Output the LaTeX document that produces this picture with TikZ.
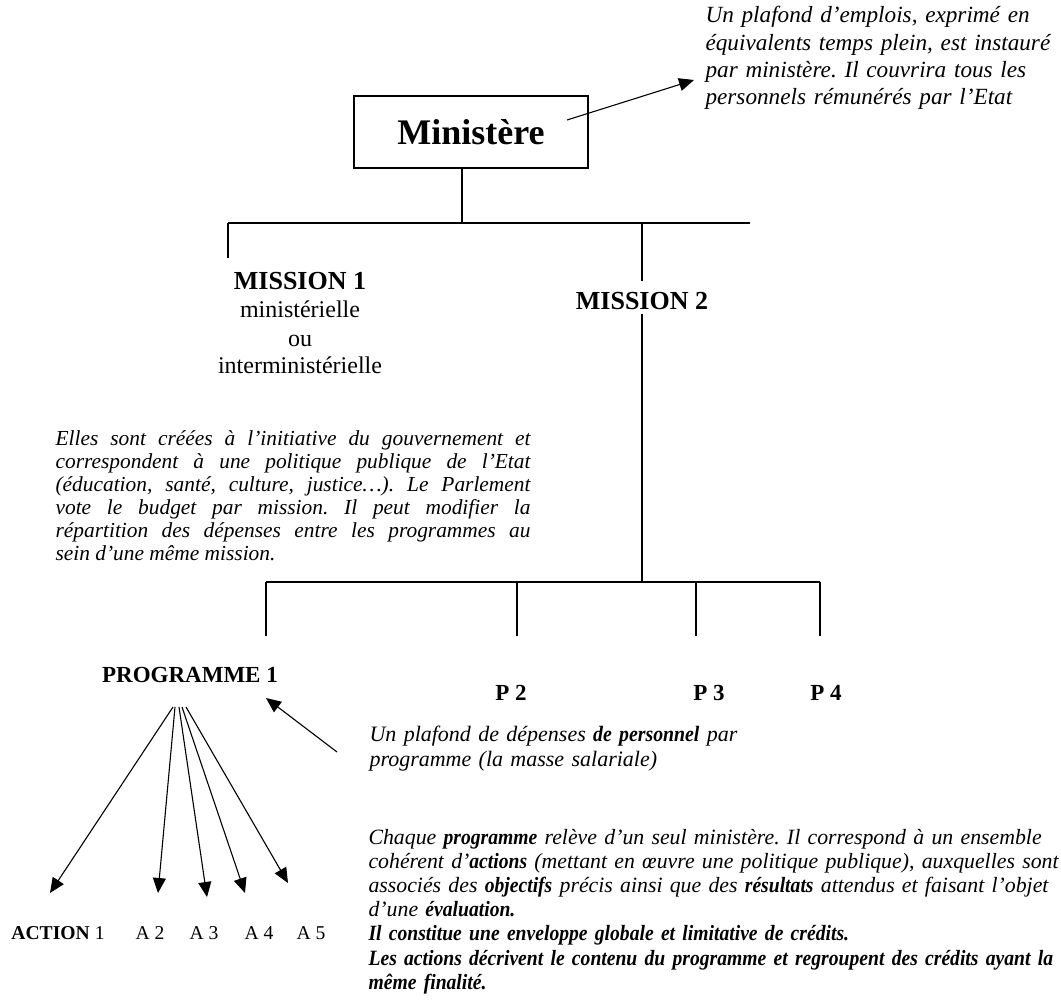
\documentclass[tikz,border=0pt]{standalone}
\usepackage{fontspec}
\setmainfont{Liberation Serif}
\newfontfamily\narrowserif[FakeStretch=0.9]{Liberation Serif}
\newcommand{\bi}[1]{{\narrowserif\bfseries\itshape #1}}
\frenchspacing
\usetikzlibrary{arrows.meta}
\tikzstyle{box} = [draw, minimum width=117pt, minimum height=36pt, inner sep=0pt, font=\fontsize{18}{20}\selectfont\bfseries]
\tikzstyle{title} = [inner sep=0pt, anchor=base, font=\fontsize{13}{15}\selectfont\bfseries]
\tikzstyle{sub} = [inner sep=0pt, anchor=base, font=\fontsize{12}{14}\selectfont]
\tikzstyle{prog} = [inner sep=0pt, anchor=base, font=\fontsize{11.5}{13}\selectfont\bfseries]
\tikzstyle{act} = [inner sep=0pt, anchor=base, font=\fontsize{9.8}{12}\selectfont]
\tikzstyle{note} = [inner sep=0pt, anchor=base west, align=left, font=\fontsize{11}{12.5}\selectfont\itshape]
\tikzstyle{arr} = [-{Triangle[length=7.5pt, width=6.5pt]}]

\begin{document}
\begin{tikzpicture}[x=0.5pt, y=-0.5pt, line width=0.55pt]
    \useasboundingbox (0,0) rectangle (1061,1000);
    \node (min) [box] at (471,132) {Ministère};
    \node (emplois) [note, text width=180pt, font=\fontsize{11.6}{13.6}\selectfont\itshape] at (705,23)
        {Un plafond d'emplois, exprimé en\\ équivalents temps plein, est instauré\\
         par ministère. Il couvrira tous les\\ personnels rémunérés par l'Etat};
    \coordinate (e0) at (567,120);
    \coordinate (e1) at (694,80);
    \draw [arr] (e0) -- (e1);
    % missions
    \coordinate (j0) at (462,223);
    \coordinate (l0) at (228,223);
    \coordinate (r0) at (750,223);
    \coordinate (j1) at (228,258);
    \coordinate (j2) at (642,223);
    \node (m1) [title] at (300,290) {MISSION 1};
    \node (m1a) [sub] at (300,318) {ministérielle};
    \node (m1b) [sub] at (300,347) {ou};
    \node (m1c) [sub] at (300,374) {interministérielle};
    \node (m2) [title] at (642,310) {MISSION 2};
    \draw (min.south -| j0) -- (j0);
    \draw (l0) -- (r0);
    \draw (l0) -- (j1);
    \draw (j2) -- ([yshift=5.5pt]m2.north);
    \node (elles) [note, text width=237.5pt, align=justify, font=\fontsize{10.7}{11.5}\selectfont\itshape] at (55,445)
        {Elles sont créées à l'initiative du gouvernement et\linebreak
         correspondent à une politique publique de l'Etat\linebreak
         (éducation, santé, culture, justice…). Le Parlement\linebreak
         vote le budget par mission. Il peut modifier la\linebreak
         répartition des dépenses entre les programmes au\linebreak
         sein d'une même mission.};
    % programmes
    \coordinate (j3) at (642,582);
    \coordinate (l3) at (266,582);
    \coordinate (r3) at (820,582);
    \coordinate (q1) at (266,636);
    \coordinate (q2) at (517,636);
    \coordinate (q3) at (696,636);
    \coordinate (q4) at (820,636);
    \draw ([yshift=-1.5pt]m2.south) -- (j3);
    \draw (l3) -- (r3);
    \foreach \q in {q1,q2,q3,q4}
        \draw (\q |- j3) -- (\q);
    \node (p1) [prog] at (190,682) {PROGRAMME 1};
    \node (p2) [prog] at (511,700) {P 2};
    \node (p3) [prog] at (709,700) {P 3};
    \node (p4) [prog] at (826,700) {P 4};
    \node (masse) [note, text width=200pt] at (369,741)
        {Un plafond de dépenses \bi{de personnel} par\\ programme (la masse salariale)};
    \coordinate (d0) at (337,752);
    \coordinate (d1) at (266,698);
    \draw [arr] (d0) -- (d1);
    % actions
    \coordinate (o1) at (173,707);
    \coordinate (o2) at (175,707);
    \coordinate (o3) at (179,707);
    \coordinate (o4) at (182,707);
    \coordinate (o5) at (186,707);
    \coordinate (t1) at (50,893);
    \coordinate (t2) at (158,893);
    \coordinate (t3) at (207,897);
    \coordinate (t4) at (245,893);
    \coordinate (t5) at (288,883);
    \foreach \i in {1,...,5}
        \draw [arr] (o\i) -- (t\i);
    \node (a1) [act] at (58,939) {\textbf{ACTION} 1};
    \node (a2) [act] at (150,939) {A 2};
    \node (a3) [act] at (204,939) {A 3};
    \node (a4) [act] at (259,939) {A 4};
    \node (a5) [act] at (311,939) {A 5};
    \node (chaque) [note, text width=420pt, font=\fontsize{10.9}{12.1}\selectfont\itshape] at (368,844)
        {Chaque \bi{programme} relève d'un seul ministère. Il correspond à un ensemble\\
         cohérent d'\bi{actions} (mettant en œuvre une politique publique), auxquelles sont\\
         associés des \bi{objectifs} précis ainsi que des \bi{résultats} attendus et faisant l'objet\\
         d'une \bi{évaluation.}\\
         \bi{Il constitue une enveloppe globale et limitative de crédits.}\\
         \bi{Les actions décrivent le contenu du programme et regroupent des crédits ayant la}\\
         \bi{même finalité.}};
\end{tikzpicture}
\end{document}
